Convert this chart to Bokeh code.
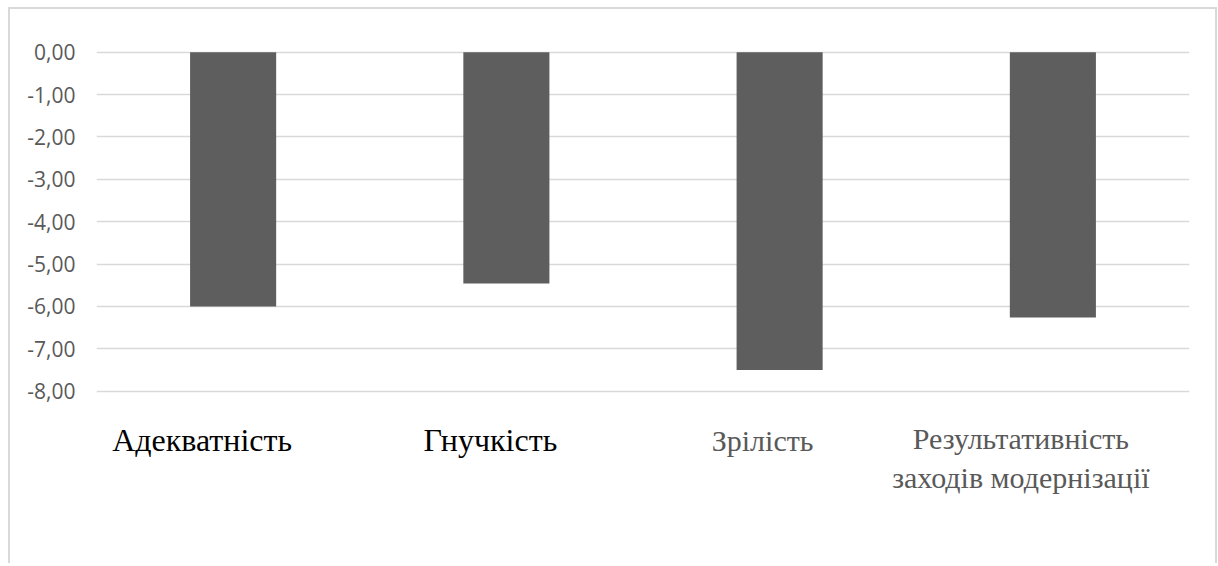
from bokeh.plotting import figure
from bokeh.models import FactorRange, Range1d, FixedTicker, ColumnDataSource
from bokeh.core.properties import value
from bokeh.embed import file_html
from bokeh.resources import INLINE

# ---- data ----
categories = ["Адекватність", "Гнучкість", "Зрілість", "Результативність\nзаходів модернізації"]
values = [-6.00, -5.46, -7.50, -6.26]
label_colors = ["#000000", "#000000", "#595959", "#595959"]
tick_values = [0, -1, -2, -3, -4, -5, -6, -7, -8]
tick_labels = ["0,00", "-1,00", "-2,00", "-3,00", "-4,00", "-5,00", "-6,00", "-7,00", "-8,00"]

# ---- layout / style ----
label_x_offsets = [-31, -16, -17, -32]
label_sizes = ["32px", "32px", "30px", "30px"]
PX_PER_UNIT = 339.0 / 8.0      # vertical scale of the value axis
TOP_PAD_PX = 42.7              # space above the 0 line
CANVAS_H = 556
Y_END = TOP_PAD_PX / PX_PER_UNIT
Y_START = -(CANVAS_H - TOP_PAD_PX) / PX_PER_UNIT
SERIF = "Liberation Serif"

p = figure(
    width=1209, height=CANVAS_H,
    x_range=FactorRange(*categories),
    y_range=Range1d(Y_START, Y_END),
    output_backend="svg", toolbar_location=None,
    min_border_left=86, min_border_right=30, min_border_top=0, min_border_bottom=0,
)
p.styles = {
    "margin-left": "8px",
    "margin-top": "7px",
    "border-top": "2px solid #d9d9d9",
    "border-left": "2px solid #d9d9d9",
    "border-right": "2px solid #d9d9d9",
}
p.outline_line_color = None
p.background_fill_color = "white"
p.border_fill_color = "white"

p.vbar(x=categories, top=0, bottom=values, width=0.315, fill_color="#5e5e5e", line_color=None)

p.xgrid.visible = False
p.ygrid.grid_line_color = "#d9d9d9"
p.ygrid.grid_line_width = 1.4
p.ygrid.ticker = FixedTicker(ticks=tick_values)

p.xaxis.visible = False

yax = p.yaxis[0]
yax.ticker = FixedTicker(ticks=tick_values)
yax.major_label_overrides = {v: s for v, s in zip(tick_values, tick_labels)}
yax.axis_line_color = None
yax.major_tick_line_color = None
yax.minor_tick_line_color = None
yax.major_tick_out = 0
yax.major_tick_in = 0
yax.major_label_standoff = 21
yax.major_label_text_font = "Open Sans"
yax.major_label_text_font_size = "21px"
yax.major_label_text_color = "#595959"

# category labels drawn as text below the -8 line
tx, tt, txo, tyo, tc, ts = [], [], [], [], [], []
for cat, col, xo, sz in zip(categories, label_colors, label_x_offsets, label_sizes):
    lines = cat.split("\n")
    offs = [49] if len(lines) == 1 else [47, 86]
    for line, yo in zip(lines, offs):
        tx.append(cat)
        tt.append(line)
        txo.append(xo)
        tyo.append(yo)
        tc.append(col)
        ts.append(sz)
src = ColumnDataSource(dict(x=tx, y=[tick_values[-1]] * len(tx), text=tt, xo=txo, yo=tyo, c=tc, s=ts))
p.text(x="x", y="y", text="text", x_offset="xo", y_offset="yo", text_color="c", source=src,
       text_align="center", text_baseline="alphabetic",
       text_font=value(SERIF), text_font_size="s")

open("out.html", "w").write(file_html(p, INLINE))
